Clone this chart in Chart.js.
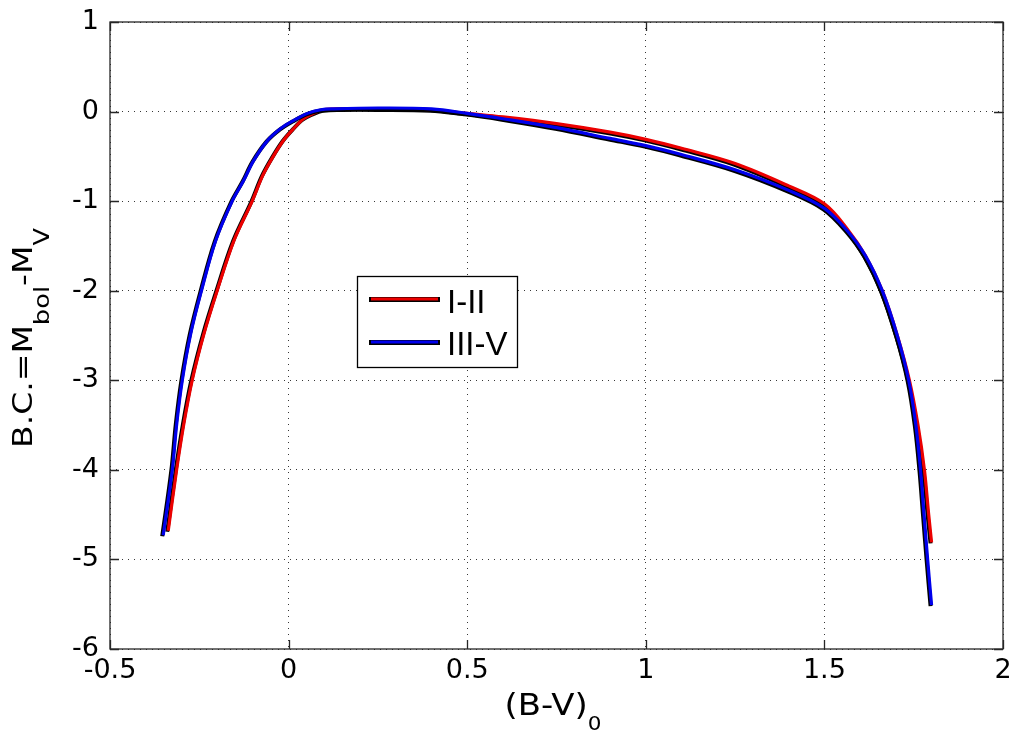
<!DOCTYPE html>
<html>
<head>
<meta charset="utf-8">
<script src="https://cdn.jsdelivr.net/npm/chart.js@4.4.1/dist/chart.umd.min.js"></script>
<style>
  html, body { margin: 0; padding: 0; background: #ffffff; }
  #wrap { width: 1018px; height: 736px; }
</style>
</head>
<body>
<div id="wrap"><canvas id="c" width="1018" height="736"></canvas></div>
<script>
// ---- data ----
const seriesNames = ['I-II', 'III-V'];
const xTicks = [-0.5, 0, 0.5, 1, 1.5, 2];
const yTicks = [1, 0, -1, -2, -3, -4, -5, -6];

const bvRed = [-0.337, -0.3135, -0.293, -0.27, -0.237, -0.2, -0.153, -0.102, -0.072, -0.043, -0.014, 0.014, 0.042, 0.07, 0.098, 0.15, 0.25, 0.4, 0.5, 0.6, 0.75, 0.9, 1.0, 1.1, 1.25, 1.4, 1.5, 1.564, 1.615, 1.662, 1.704, 1.738, 1.762, 1.78, 1.792, 1.8];
const bcRed = [-4.68, -4.0, -3.48, -3.0, -2.48, -2.0, -1.44, -1.0, -0.71, -0.5, -0.32, -0.19, -0.08, -0.02, 0.02, 0.03, 0.03, 0.02, -0.02, -0.06, -0.135, -0.23, -0.31, -0.41, -0.58, -0.83, -1.03, -1.31, -1.61, -2.0, -2.5, -3.0, -3.5, -4.0, -4.5, -4.81];

const bvBlue = [-0.351, -0.3256, -0.313, -0.2976, -0.274, -0.244, -0.204, -0.158, -0.126, -0.098, -0.059, -0.022, 0.014, 0.053, 0.09, 0.126, 0.25, 0.4, 0.5, 0.6, 0.75, 0.9, 1.0, 1.1, 1.25, 1.4, 1.5, 1.564, 1.615, 1.662, 1.704, 1.736, 1.756, 1.769, 1.779, 1.789, 1.8];
const bcBlue = [-4.73, -4.0, -3.48, -3.0, -2.48, -2.0, -1.44, -1.0, -0.77, -0.547, -0.324, -0.19, -0.1, -0.02, 0.02, 0.03, 0.04, 0.03, -0.02, -0.08, -0.18, -0.3, -0.38, -0.48, -0.65, -0.88, -1.08, -1.33, -1.61, -2.0, -2.5, -3.0, -3.5, -4.0, -4.5, -5.0, -5.51];

const redColor = 'rgb(236,0,0)';
const blueColor = 'rgb(0,0,236)';

function pts(xs, ys) { return xs.map((x, i) => ({ x: x, y: ys[i] })); }

// ---- plugins ----
const shadowPlugin = {
  id: 'shadow',
  beforeDatasetDraw(chart, args) {
    const ds = chart.data.datasets[args.index];
    if (ds.isShadow) { chart.ctx.save(); chart.ctx.translate(-1, 1); }
  },
  afterDatasetDraw(chart, args) {
    const ds = chart.data.datasets[args.index];
    if (ds.isShadow) { chart.ctx.restore(); }
  }
};

function drawSegs(ctx, segs, cx, cy, totalLen, rotate) {
  let w = 0;
  segs.forEach(s => { ctx.font = s.size + 'px "DejaVu Sans", sans-serif'; s.w = ctx.measureText(s.text).width; w += s.w; });
  const sx = totalLen / w;
  ctx.save();
  ctx.translate(cx, cy);
  if (rotate) ctx.rotate(-Math.PI / 2);
  ctx.scale(sx, 1);
  ctx.fillStyle = '#000';
  ctx.textBaseline = 'alphabetic';
  ctx.textAlign = 'left';
  let x = -w / 2;
  segs.forEach(s => {
    ctx.font = s.size + 'px "DejaVu Sans", sans-serif';
    ctx.fillText(s.text, x, s.dy);
    x += s.w;
  });
  ctx.restore();
}

const framePlugin = {
  id: 'frame',
  afterDatasetsDraw(chart) {
    const ctx = chart.ctx;
    const a = chart.chartArea;
    const xs = chart.scales.x, ys = chart.scales.y;
    ctx.save();
    ctx.strokeStyle = '#262626';
    ctx.lineWidth = 1.3;
    ctx.strokeRect(a.left, a.top, a.right - a.left, a.bottom - a.top);
    ctx.beginPath();
    const tl = 9;
    xTicks.forEach(v => {
      const p = Math.round(xs.getPixelForValue(v)) + 0.5;
      ctx.moveTo(p, a.bottom); ctx.lineTo(p, a.bottom - tl);
      ctx.moveTo(p, a.top); ctx.lineTo(p, a.top + tl);
    });
    yTicks.forEach(v => {
      const p = Math.round(ys.getPixelForValue(v)) + 0.5;
      ctx.moveTo(a.left, p); ctx.lineTo(a.left + tl, p);
      ctx.moveTo(a.right, p); ctx.lineTo(a.right - tl, p);
    });
    ctx.stroke();
    ctx.restore();
  },
  afterDraw(chart) {
    const ctx = chart.ctx;
    // axis titles
    drawSegs(ctx, [
      { text: '(B-V)', size: 30, dy: 0 },
      { text: '0', size: 19, dy: 15 }
    ], 553, 715, 97, false);
    drawSegs(ctx, [
      { text: 'B.C.=M', size: 27, dy: 0 },
      { text: 'bol', size: 21, dy: 17 },
      { text: '-M', size: 27, dy: 0 },
      { text: 'V', size: 21, dy: 17 }
    ], 32, 338, 220, true);

    // legend
    const bx = 357, by = 276, bw = 160, bh = 91;
    ctx.save();
    ctx.fillStyle = '#fff';
    ctx.fillRect(bx, by, bw, bh);
    ctx.strokeStyle = '#000';
    ctx.lineWidth = 1.3;
    ctx.strokeRect(bx + 0.5, by + 0.5, bw, bh);
    const rows = [
      { name: seriesNames[0], color: redColor, ly: 299, ty: 313 },
      { name: seriesNames[1], color: blueColor, ly: 342, ty: 355 }
    ];
    rows.forEach(r => {
      ctx.lineCap = 'butt';
      ctx.strokeStyle = '#000';
      ctx.lineWidth = 5;
      ctx.beginPath(); ctx.moveTo(369, r.ly + 0.5); ctx.lineTo(440, r.ly + 0.5); ctx.stroke();
      ctx.strokeStyle = r.color;
      ctx.lineWidth = 3;
      ctx.beginPath(); ctx.moveTo(371, r.ly); ctx.lineTo(438, r.ly); ctx.stroke();
      ctx.fillStyle = '#000';
      ctx.font = '33px "Liberation Sans", Arial, sans-serif';
      ctx.textBaseline = 'alphabetic';
      ctx.textAlign = 'left';
      ctx.fillText(r.name, 447, r.ty);
    });
    ctx.restore();
  }
};

const gridCommon = {
  color: 'rgba(20,20,20,0.85)',
  lineWidth: 1,
  drawTicks: false,
  tickLength: 0
};

const lineCommon = { showLine: true, pointRadius: 0, tension: 0.35 };

new Chart(document.getElementById('c'), {
  type: 'scatter',
  data: {
    datasets: [
      Object.assign({ label: 'shadowRed', isShadow: true, data: pts(bvRed, bcRed), borderColor: '#000', borderWidth: 4, order: 4 }, lineCommon),
      Object.assign({ label: seriesNames[0], data: pts(bvRed, bcRed), borderColor: redColor, borderWidth: 3.2, order: 3 }, lineCommon),
      Object.assign({ label: 'shadowBlue', isShadow: true, data: pts(bvBlue, bcBlue), borderColor: '#000', borderWidth: 4, order: 2 }, lineCommon),
      Object.assign({ label: seriesNames[1], data: pts(bvBlue, bcBlue), borderColor: blueColor, borderWidth: 3.2, order: 1 }, lineCommon)
    ]
  },
  options: {
    responsive: false,
    animation: false,
    devicePixelRatio: 1,
    layout: { padding: { top: 22, right: 15, left: 0, bottom: 0 } },
    plugins: {
      legend: { display: false },
      tooltip: { enabled: false },
      title: { display: false }
    },
    scales: {
      x: {
        type: 'linear',
        min: xTicks[0],
        max: xTicks[xTicks.length - 1],
        afterBuildTicks: (s) => { s.ticks = xTicks.map(v => ({ value: v })); },
        afterFit: (s) => { s.height = 87; s.paddingLeft = 0; s.paddingRight = 0; },
        grid: gridCommon,
        border: { display: false, dash: [1, 5] },
        ticks: {
          color: '#000',
          font: { family: '"DejaVu Sans", sans-serif', size: 27 },
          padding: 6,
          maxRotation: 0,
          autoSkip: false,
          callback: (v) => String(v)
        }
      },
      y: {
        type: 'linear',
        min: yTicks[yTicks.length - 1],
        max: yTicks[0],
        afterBuildTicks: (s) => { s.ticks = yTicks.slice().reverse().map(v => ({ value: v })); },
        afterFit: (s) => { s.width = 110; s.paddingTop = 0; s.paddingBottom = 0; },
        grid: gridCommon,
        border: { display: false, dash: [1, 5] },
        ticks: {
          color: '#000',
          font: { family: '"DejaVu Sans", sans-serif', size: 27 },
          padding: 11,
          autoSkip: false,
          callback: (v) => String(v)
        }
      }
    }
  },
  plugins: [shadowPlugin, framePlugin]
});
</script>
</body>
</html>
